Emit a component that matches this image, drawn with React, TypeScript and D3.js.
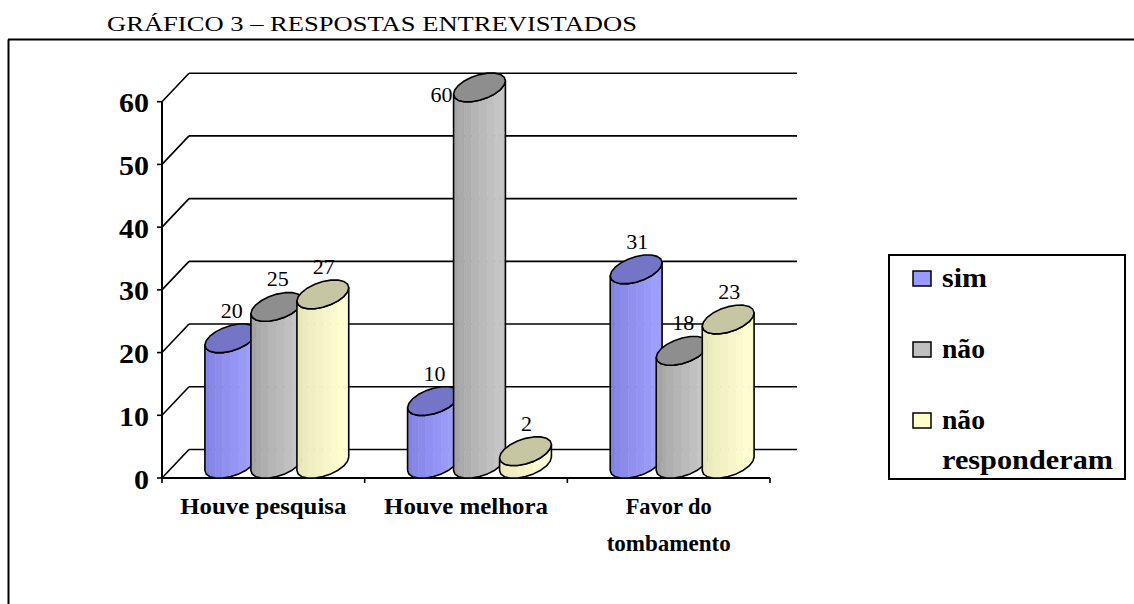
import * as d3 from "d3";

// chart values
const categories = ["Houve pesquisa", "Houve melhora", "Favor do tombamento"];
const categoryLines = [["Houve pesquisa"], ["Houve melhora"], ["Favor do", "tombamento"]];
const categoryWidths = [[166], [164], [86, 124]];
const series = ["sim", "não", "não responderam"];
const legendLines = [["sim"], ["não"], ["não", "responderam"]];
const legendWidths = [[45], [43], [43, 171]];
const simValues = [20, 10, 31];
const naoValues = [25, 60, 18];
const naoRespValues = [27, 2, 23];
const yTicks = [0, 10, 20, 30, 40, 50, 60];
const title = "GRÁFICO 3 – RESPOSTAS ENTREVISTADOS";

const seriesValues = [simValues, naoValues, naoRespValues];

// colours: swatch, dark side, light side, top
const palette = [
  { swatch: "#9999ff", dark: "#7b7bdc", light: "#a0a0ff", top: "#7575c8" },
  { swatch: "#c0c0c0", dark: "#9c9c9c", light: "#c8c8c8", top: "#8e8e8e" },
  { swatch: "#ffffcc", dark: "#e2e2b4", light: "#ffffd2", top: "#c6c6a2" },
];

const W = 1134;
const H = 604;
const plot = { left: 162, right: 770, top: 101.7, bottom: 478 };
const depth = { dx: 27, dy: -28.5 };
const cyl = { r: 23, kx: 0.52, ky: 0.63, half: 10 };
const serif = "Liberation Serif";

const y = d3.scaleLinear().domain([0, 60]).range([plot.bottom, plot.top]);
const x0 = d3.scaleBand<string>().domain(categories).range([plot.left, plot.right]);
const x1 = d3.scaleBand<string>().domain(series).range([-69, 69]);

function Cylinder({ cx, value, si }: { cx: number; value: number; si: number }) {
  const { r, kx, ky, half } = cyl;
  const col = palette[si];
  const yTop = y(value) + depth.dy / 2;
  const yBot = y(0) + depth.dy / 2;
  const phiL = Math.PI + Math.atan(kx);
  const pt = (phi: number, cy: number): [number, number] => [
    cx + r * Math.cos(phi) + kx * r * Math.sin(phi),
    cy - ky * r * Math.sin(phi),
  ];
  const angles = d3.range(half * 2).map(k => phiL + (k * Math.PI) / half);
  const front = d3.range(half + 1).map(k => phiL + (k * Math.PI) / half);
  const shade = d3.interpolateRgb(col.dark, col.light);
  const line = d3.line();

  const facets = d3.range(half).map(k => {
    const t = (k + 0.5) / half;
    const s = t < 0.8 ? t / 0.8 : 1 - (t - 0.8) * 1.5;
    const poly = [pt(front[k], yBot), pt(front[k + 1], yBot), pt(front[k + 1], yTop), pt(front[k], yTop)];
    return { d: line(poly) + "Z", fill: shade(s) };
  });

  const body = [...front.map(a => pt(a, yBot)), ...front.slice().reverse().map(a => pt(a, yTop))];
  const top = angles.map(a => pt(a, yTop));

  const topMost = yTop - ky * r;
  const leftEdge = cx - Math.sqrt(r * r + kx * kx * r * r);
  const inside = topMost - 6 > plot.top + depth.dy;

  return (
    <g>
      {facets.map((f, i) => (
        <path key={i} d={f.d} fill={f.fill} stroke={f.fill} strokeWidth={0.6} />
      ))}
      <path d={line(body) + "Z"} fill="none" stroke="#000" strokeWidth={1.6} strokeLinejoin="round" />
      <path d={line(top) + "Z"} fill={col.top} stroke="#000" strokeWidth={1.6} strokeLinejoin="round" />
      {inside ? (
        <text x={cx + 1} y={topMost - 6} textAnchor="middle" fontSize={22}>
          {value}
        </text>
      ) : (
        <text x={leftEdge - 1} y={yTop + 15} textAnchor="end" fontSize={22}>
          {value}
        </text>
      )}
    </g>
  );
}

export default function App() {
  const backLeft = plot.left + depth.dx;
  const backRight = 797;
  const xTickPos = [...categories.map(c => x0(c) as number), plot.right];

  return (
    <svg
      width={W}
      height={H}
      fontFamily={serif}
      style={{ position: "absolute", left: 0, top: 0, background: "#fff", fontFamily: serif }}
    >
      {/* title and frame */}
      <text x={107} y={31} fontSize={22} textLength={530} lengthAdjust="spacingAndGlyphs">
        {title}
      </text>
      <line x1={8} x2={W} y1={39.5} y2={39.5} stroke="#000" strokeWidth={2} />
      <line x1={8.5} x2={8.5} y1={39.5} y2={H} stroke="#000" strokeWidth={2} />

      {/* back wall gridlines and side diagonals */}
      {yTicks.map(t => (
        <g key={t}>
          <line x1={backLeft} x2={backRight} y1={y(t) + depth.dy} y2={y(t) + depth.dy} stroke="#000" strokeWidth={1.6} />
          <line x1={plot.left} x2={backLeft} y1={y(t)} y2={y(t) + depth.dy} stroke="#000" strokeWidth={1.6} />
          <line x1={plot.left - 5} x2={plot.left} y1={y(t)} y2={y(t)} stroke="#000" strokeWidth={1.6} />
          <text
            x={149}
            y={y(t) + 10.5}
            textAnchor="end"
            fontWeight="bold"
            fontSize={27}
            textLength={String(t).length * 15}
            lengthAdjust="spacingAndGlyphs"
          >
            {t}
          </text>
        </g>
      ))}

      {/* axes */}
      <line x1={plot.left} x2={plot.left} y1={plot.top} y2={plot.bottom} stroke="#000" strokeWidth={2} />
      <line x1={plot.left} x2={plot.right} y1={plot.bottom} y2={plot.bottom} stroke="#000" strokeWidth={2} />
      {xTickPos.map((p, i) => (
        <line key={i} x1={p} x2={p} y1={plot.bottom} y2={plot.bottom + 5} stroke="#000" strokeWidth={1.6} />
      ))}

      {/* cylinders */}
      {categories.map((c, ci) => {
        const center = (x0(c) as number) + x0.bandwidth() / 2 + depth.dx / 2;
        return (
          <g key={c}>
            {series.map((s, si) => (
              <Cylinder
                key={s}
                cx={center + (x1(s) as number) + x1.bandwidth() / 2}
                value={seriesValues[si][ci]}
                si={si}
              />
            ))}
          </g>
        );
      })}

      {/* category labels */}
      {categories.map((c, ci) => {
        const cx = (x0(c) as number) + x0.bandwidth() / 2;
        return categoryLines[ci].map((ln, li) => (
          <text
            key={c + li}
            x={cx}
            y={514 + li * 37}
            textAnchor="middle"
            fontWeight="bold"
            fontSize={23}
            textLength={categoryWidths[ci][li]}
            lengthAdjust="spacingAndGlyphs"
          >
            {ln}
          </text>
        ));
      })}

      {/* legend */}
      <rect x={889} y={255} width={236} height={224} fill="#fff" stroke="#000" strokeWidth={2} />
      {series.map((s, si) => {
        const top = 271 + si * 71;
        return (
          <g key={s}>
            <rect x={913} y={top} width={18} height={15} fill={palette[si].swatch} stroke="#000" strokeWidth={1.5} />
            {legendLines[si].map((ln, li) => (
              <text
                key={li}
                x={942}
                y={top + 16 + li * 40}
                fontWeight="bold"
                fontSize={27}
                textLength={legendWidths[si][li]}
                lengthAdjust="spacingAndGlyphs"
              >
                {ln}
              </text>
            ))}
          </g>
        );
      })}
    </svg>
  );
}
